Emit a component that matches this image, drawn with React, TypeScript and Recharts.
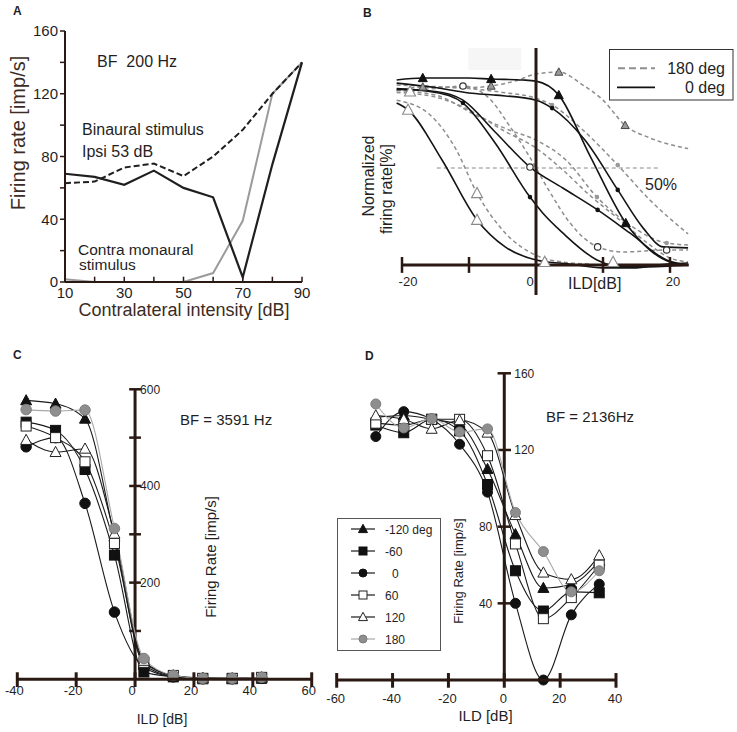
import React from "react";
import {
  ComposedChart,
  Line,
  Scatter,
  XAxis,
  YAxis,
  ReferenceLine,
  ReferenceDot,
  ReferenceArea,
} from "recharts";

const AXIS = "#2a1912";
const INK = "#1f1f1f";
const LABEL = "#3b2c25";
const GRAY_LINE = "#9b9b9b";
const FONT = '"Liberation Sans", Arial, Helvetica, sans-serif';

// ---------- A: firing rate vs contralateral intensity
const intensityA = [10, 20, 30, 40, 50, 60, 70, 80, 90];
const binauralSolid = [69, 67, 62, 71, 60, 54, 3, 75, 140];
const binauralDashed = [63, 64, 73, 75.5, 67.5, 80, 97, 120, 140];
const contraMonaural = [1.7, 0, 0, 0, 0, 5.7, 39, 120, 140];
const rateTicksA = [0, 20, 40, 60, 80, 100, 120, 140, 160];
const intensityLabelsA = [10, 30, 50, 70, 90];
const intensityMarksA = [20, 30, 40, 50, 60, 70, 80, 90];

// ---------- B: normalized ILD curves, [ILD dB, % rate]
type Pt = [number, number];
const b0Triangles: Pt[] = [[-20.8, 95.4], [-16.9, 96.4], [-10, 96.4], [-6.7, 95.9], [-2, 95.4], [0, 94.8], [3.4, 87.6], [8, 56.7], [13.4, 21.6], [17, 7.7], [20, 1.5], [22.7, 0]];
const b0Dots: Pt[] = [[-20.8, 93.8], [-15, 91.5], [-10, 88.7], [-6, 87.6], [0, 85], [2.4, 80.9], [7.3, 64.4], [12.2, 38.7], [16, 19], [19, 9.3], [22.7, 8.8]];
const b0Steep: Pt[] = [[-20.8, 91], [-15, 89], [-10.9, 83.5], [-6.1, 62.9], [-0.9, 35], [1, 26.8], [4, 16.5], [9.1, 2.6], [12, -0.5], [16, -1], [22.7, 0]];
const b0Circles: Pt[] = [[-20.8, 90.5], [-15, 89.5], [-10.9, 85], [-6.1, 68.6], [-0.9, 50.5], [4, 39.7], [9.2, 28.4], [14, 16.5], [19.5, 2.6], [22.7, 0]];
const b0OpenTri: Pt[] = [[-20.8, 83.5], [-19.1, 80], [-14, 54], [-8.8, 23.2], [-4.6, 9.3], [0, 2.6], [5, 0.5], [10, -1.5], [15, -1.5], [18, 0], [22.7, 1]];
const b180Triangles: Pt[] = [[-20.8, 90], [-16.9, 91.8], [-10, 91.5], [-6.7, 92.3], [-3, 95], [0, 98.5], [3.4, 99.5], [7, 92.8], [10, 85], [13.3, 72], [17, 65.5], [22.7, 60]];
const b180Squares: Pt[] = [[-20.8, 92.8], [-15, 92], [-10, 91], [-5, 89], [0, 86], [2.4, 82.5], [7, 69.6], [12.2, 51.5], [17, 33.5], [22.7, 16]];
const b180Dots: Pt[] = [[-20.8, 90], [-15, 87.6], [-9, 77.3], [-4, 69.6], [0, 64.4], [4.5, 54], [9.1, 35], [14, 20.6], [19.5, 11.3], [22.7, 10.3]];
const b180OpenTri: Pt[] = [[-20.8, 85], [-16, 78], [-12, 60], [-8.8, 37], [-4.6, 16.5], [0, 5], [4, 1.5], [8, 0.5]];
const b180Plain: Pt[] = [[-20.8, 89], [-15, 86.6], [-10, 80], [-5, 69.6], [0, 60.3], [4, 49], [8, 36], [12.5, 23.2], [17, 10.3], [20, 3.6], [22.7, 1.5]];
const b180Circles: Pt[] = [[-20.8, 90], [-15, 91], [-10.9, 92.3], [-7, 86], [-4, 72], [-1, 56], [2, 38], [5, 22], [9.2, 9.3], [13, 6.7], [19.5, 7.7], [22.7, 7.7]];

const bMarkBlackTri: Pt[] = [[-16.9, 96.4], [-6.7, 95.9], [3.4, 87.6], [13.4, 21.6]];
const bMarkGrayTri: Pt[] = [[-16.9, 91.8], [-6.7, 92.3], [3.4, 99.5], [13.3, 72]];
const bMarkOpenTri: Pt[] = [[-19.1, 80], [-18.8, 89.4], [-8.8, 37], [-8.8, 23.2], [1.3, 1.5], [11.5, 1.5]];
const bMarkOpenCircle: Pt[] = [[-10.9, 92.3], [-0.9, 50.5], [9.2, 9.3], [19.5, 7.7]];
const bMarkBlackDot: Pt[] = [[-10.9, 83.5], [-0.9, 35], [2.4, 80.9], [12.2, 38.7], [9.2, 28.4]];
const bMarkGrayDot: Pt[] = [[2.4, 82.5], [12.2, 51.5], [9.1, 35], [19.5, 11.3]];
const ildTicksB = [-20, -10, 10, 20];

// ---------- C and D: firing rate vs ILD for six phase differences
const phaseNames = ["-120 deg", "-60", "0", "60", "120", "180"];

const ildC = [-37, -27, -17, -7, 3, 13, 23, 33, 43];
const cMinus120 = [577, 570, 539, 295, 30, 6, 2, 1, 3];
const cMinus60 = [532, 515, 434, 257, 15, 5, 1, 1, 2];
const c0 = [481, 500, 364, 139, 25, 5, 1, 1, 2];
const c60 = [524, 500, 450, 281, 35, 8, 2, 2, 4];
const c120 = [495, 470, 477, 301, 38, 8, 3, 2, 4];
const c180 = [558, 555, 557, 312, 43, 8, 2, 2, 4];
const ildTicksC = [-40, -20, 0, 20, 40, 60];
const rateMarksC = [100, 200, 300, 400, 500, 600];
const rateLabelsC = [200, 400, 600];

const ildD = [-46, -36, -26, -16, -6, 4, 14, 24, 34];
const dMinus120 = [137, 138, 136, 133, 110, 76, 48, 50, 62];
const dMinus60 = [133, 129, 136, 130, 102, 57, 36, 46, 45.5];
const d0 = [127, 140, 136, 123, 98, 40, 0, 34, 50];
const d60 = [134, 133, 136, 136, 117, 71, 32, 43, 60];
const d120 = [138, 136, 131, 135.5, 129, 86, 56, 52.5, 65];
const d180 = [144, 131.5, 136.4, 129.4, 131, 87.4, 67, 46, 57];
const ildTicksD = [-60, -40, -20, 0, 20, 40];
const rateMarksD = [40, 80, 120, 160];

const phaseStyles = [
  { shape: "tri", fill: "#111", stroke: "#111", line: "#1a1a1a" },
  { shape: "sq", fill: "#111", stroke: "#111", line: "#1a1a1a" },
  { shape: "dot", fill: "#111", stroke: "#111", line: "#1a1a1a" },
  { shape: "sq", fill: "#fff", stroke: "#222", line: "#1a1a1a" },
  { shape: "tri", fill: "#fff", stroke: "#222", line: "#1a1a1a" },
  { shape: "dot", fill: "#8e8e8e", stroke: "#7d7d7d", line: "#a8a8a8" },
];

const toXY = (pts: Pt[]) => pts.map(([x, y]) => ({ x, y }));
const zipXY = (xs: number[], ys: number[]) => xs.map((x, i) => ({ x, y: ys[i] }));

function Mark({ cx, cy, shape, size, fill, stroke, sw = 1 }: any) {
  if (cx == null || cy == null) return null;
  const h = size / 2;
  if (shape === "tri") {
    return (
      <polygon
        points={`${cx},${cy - h * 1.05} ${cx - h},${cy + h * 0.8} ${cx + h},${cy + h * 0.8}`}
        fill={fill}
        stroke={stroke}
        strokeWidth={sw}
      />
    );
  }
  if (shape === "sq") {
    return <rect x={cx - h} y={cy - h} width={size} height={size} fill={fill} stroke={stroke} strokeWidth={sw} />;
  }
  return <circle cx={cx} cy={cy} r={h} fill={fill} stroke={stroke} strokeWidth={sw} />;
}

const dotLabel = (text: string, dx: number, dy: number, anchor: string, size: number) => (p: any) => (
  <text x={p.viewBox.x + dx} y={p.viewBox.y + dy} textAnchor={anchor} fontSize={size} fill={INK}>
    {text}
  </text>
);

function Txt({ x, y, size, children, bold, color = INK, center }: any) {
  return (
    <div
      style={{
        position: "absolute",
        left: x,
        top: y,
        fontSize: size,
        lineHeight: 1,
        fontWeight: bold ? 700 : 400,
        color,
        whiteSpace: "nowrap",
        transform: center ? "translateX(-50%)" : undefined,
      }}
    >
      {children}
    </div>
  );
}

function VText({ cx, cy, size, children, color = INK }: any) {
  return (
    <div
      style={{
        position: "absolute",
        left: cx,
        top: cy,
        fontSize: size,
        lineHeight: 1,
        color,
        whiteSpace: "nowrap",
        transform: "translate(-50%, -50%) rotate(-90deg)",
      }}
    >
      {children}
    </div>
  );
}

function PanelA() {
  const rows = intensityA.map((x, i) => ({
    x,
    solid: binauralSolid[i],
    dashed: binauralDashed[i],
    mono: contraMonaural[i],
  }));
  return (
    <ComposedChart width={330} height={320} data={rows} margin={{ top: 31, right: 28, bottom: 8, left: 20 }}>
      <XAxis
        dataKey="x"
        type="number"
        domain={[10, 90]}
        ticks={intensityLabelsA}
        interval={0}
        tickLine={false}
        tickSize={0}
        tickMargin={5}
        height={30}
        axisLine={{ stroke: AXIS, strokeWidth: 2 }}
        tick={{ fontSize: 15, fill: INK }}
      />
      <YAxis
        type="number"
        domain={[0, 160]}
        ticks={rateTicksA}
        interval={0}
        width={45}
        tickSize={5}
        tickMargin={2}
        tickFormatter={(v: number) => (v % 40 === 0 ? String(v) : "")}
        tickLine={{ stroke: AXIS, strokeWidth: 1.5 }}
        axisLine={{ stroke: AXIS, strokeWidth: 2 }}
        tick={{ fontSize: 15, fill: INK }}
      />
      <Line dataKey="mono" type="linear" stroke={GRAY_LINE} strokeWidth={2} dot={false} activeDot={false} isAnimationActive={false} />
      <Line dataKey="dashed" type="linear" stroke={INK} strokeWidth={2} strokeDasharray="6 3" dot={false} activeDot={false} isAnimationActive={false} />
      <Line dataKey="solid" type="linear" stroke={INK} strokeWidth={2.2} dot={false} activeDot={false} isAnimationActive={false} />
    </ComposedChart>
  );
}

// inward x tick marks of panel A, on a transparent chart sharing A's plot box and scales
function PanelAMarks() {
  return (
    <ComposedChart width={330} height={320} margin={{ top: 31, right: 28, bottom: 38, left: 65 }}>
      <XAxis dataKey="x" type="number" domain={[10, 90]} hide />
      <YAxis type="number" domain={[0, 160]} hide />
      <Line data={zipXY(intensityA, binauralSolid)} dataKey="y" stroke="none" dot={false} activeDot={false} isAnimationActive={false} />
      {intensityMarksA.map((v) => (
        <ReferenceLine key={v} segment={[{ x: v, y: 0 }, { x: v, y: 3.4 }]} stroke={AXIS} strokeWidth={1.5} />
      ))}
    </ComposedChart>
  );
}

const bSolid = [b0Triangles, b0Dots, b0Steep, b0Circles, b0OpenTri];
const bDashed = [b180Triangles, b180Squares, b180Dots, b180OpenTri, b180Plain, b180Circles];
const bMarks = [
  { pts: bMarkGrayDot, shape: "dot", size: 4.6, fill: "#999", stroke: "#999", sw: 0 },
  { pts: bMarkBlackDot, shape: "dot", size: 4.6, fill: "#111", stroke: "#111", sw: 0 },
  { pts: bMarkOpenCircle, shape: "dot", size: 6.4, fill: "#fff", stroke: "#333", sw: 1.2 },
  { pts: bMarkGrayTri, shape: "tri", size: 8, fill: "#9a9a9a", stroke: "#444", sw: 1 },
  { pts: bMarkBlackTri, shape: "tri", size: 9, fill: "#111", stroke: "#111", sw: 1 },
  { pts: bMarkOpenTri, shape: "tri", size: 11, fill: "#fff", stroke: "#8a8a8a", sw: 1.1 },
];

function PanelB() {
  return (
    <ComposedChart width={397} height={320} margin={{ top: 48, right: 46.9, bottom: 25, left: 55.3 }}>
      <XAxis dataKey="x" type="number" domain={[-21, 23]} hide />
      <YAxis type="number" domain={[-15.5, 111.9]} hide />
      <ReferenceArea x1={-10.1} x2={-2.2} y1={100.5} y2={111.9} fill="#f6f6f6" fillOpacity={1} stroke="none" />
      <ReferenceLine segment={[{ x: -14.8, y: 50 }, { x: 18.5, y: 50 }]} stroke="#8a8a8a" strokeWidth={1} strokeDasharray="4 3" />
      {bDashed.map((c, i) => (
        <Line key={`bd${i}`} data={toXY(c)} dataKey="y" type="monotone" stroke="#8e8e8e" strokeWidth={1.5} strokeDasharray="4 3" dot={false} activeDot={false} isAnimationActive={false} />
      ))}
      {bSolid.map((c, i) => (
        <Line key={`bs${i}`} data={toXY(c)} dataKey="y" type="monotone" stroke="#141414" strokeWidth={1.6} dot={false} activeDot={false} isAnimationActive={false} />
      ))}
      <ReferenceLine segment={[{ x: -20, y: 0 }, { x: 22.8, y: 0 }]} stroke={AXIS} strokeWidth={3} />
      <ReferenceLine x={0} stroke={AXIS} strokeWidth={3} />
      {ildTicksB.map((v) => (
        <ReferenceLine key={v} segment={[{ x: v, y: -4.1 }, { x: v, y: 4.1 }]} stroke={AXIS} strokeWidth={2.5} />
      ))}
      <ReferenceDot x={-20} y={0} r={0} fill="none" stroke="none" label={dotLabel("-20", 6, 21, "middle", 13)} />
      <ReferenceDot x={0} y={0} r={0} fill="none" stroke="none" label={dotLabel("0", -6, 21, "middle", 13)} />
      <ReferenceDot x={20} y={0} r={0} fill="none" stroke="none" label={dotLabel("20", 3, 21, "middle", 13)} />
      {bMarks.map((m, i) => (
        <Scatter
          key={`bm${i}`}
          data={toXY(m.pts)}
          dataKey="y"
          isAnimationActive={false}
          shape={(p: any) => <Mark cx={p.cx} cy={p.cy} shape={m.shape} size={m.size} fill={m.fill} stroke={m.stroke} sw={m.sw} />}
        />
      ))}
    </ComposedChart>
  );
}

function PhaseLines({ xs, series, sizes, tag }: any) {
  return series.map((ys: number[], i: number) => {
    const st = phaseStyles[i];
    const size = st.shape === "tri" ? sizes.tri : st.shape === "sq" ? sizes.sq : sizes.dot;
    return (
      <Line
        key={`${tag}p${i}`}
        name={phaseNames[i]}
        data={zipXY(xs, ys)}
        dataKey="y"
        type="monotone"
        stroke={st.line}
        strokeWidth={1.1}
        activeDot={false}
        isAnimationActive={false}
        dot={(p: any) => (
          <Mark key={`${tag}${i}-${p.index}`} cx={p.cx} cy={p.cy} shape={st.shape} size={size} fill={st.fill} stroke={st.stroke} sw={1} />
        )}
      />
    );
  });
}

// vertical rate axis at ILD 0 with its marks, plus the ILD labels under rate 0
function RateAxis({ xTicks, yMarks, yMax, halfX, xLabelDx, xLabelDy, tag }: any) {
  return [
    <ReferenceLine key={`${tag}v`} segment={[{ x: 0, y: 0 }, { x: 0, y: yMax }]} stroke={AXIS} strokeWidth={3} />,
    ...yMarks.map((v: number) => (
      <ReferenceLine key={`${tag}yt${v}`} segment={[{ x: -halfX, y: v }, { x: halfX, y: v }]} stroke={AXIS} strokeWidth={2.5} />
    )),
    ...xTicks.map((v: number) => (
      <ReferenceDot key={`${tag}xl${v}`} x={v} y={0} r={0} fill="none" stroke="none" label={dotLabel(String(v), xLabelDx, xLabelDy, "middle", 13)} />
    )),
  ];
}

// horizontal ILD axis at rate 0 with crossing tick marks, on a transparent chart with the same box and scales
function IldAxisChart({ width, height, margin, xDomain, yDomain, xTicks, halfY, xs, ys }: any) {
  return (
    <ComposedChart width={width} height={height} margin={margin}>
      <XAxis dataKey="x" type="number" domain={xDomain} hide />
      <YAxis type="number" domain={yDomain} hide />
      <Line data={zipXY(xs, ys)} dataKey="y" stroke="none" dot={false} activeDot={false} isAnimationActive={false} />
      <ReferenceLine y={0} stroke={AXIS} strokeWidth={3} />
      {xTicks.map((v: number) => (
        <ReferenceLine key={`xt${v}`} segment={[{ x: v, y: -halfY * 1.1 }, { x: v, y: halfY }]} stroke={AXIS} strokeWidth={3} />
      ))}
    </ComposedChart>
  );
}

const marginC = { top: 49.3, right: 18.3, bottom: 35.8, left: 17.3 };
const marginD = { top: 33.3, right: 121, bottom: 32.8, left: 16.7 };

function PanelC() {
  return (
    <ComposedChart width={330} height={392} margin={marginC}>
      <XAxis dataKey="x" type="number" domain={[-40, 60]} hide />
      <YAxis type="number" domain={[-35, 600]} hide />
      {RateAxis({ xTicks: ildTicksC, yMarks: rateMarksC, yMax: 600, halfX: 2, xLabelDx: -3, xLabelDy: 15.7, tag: "c" })}
      {rateLabelsC.map((v) => (
        <ReferenceDot key={`l${v}`} x={0} y={v} r={0} fill="none" stroke="none" label={dotLabel(String(v), 5, 4.5, "start", 12)} />
      ))}
      {PhaseLines({ xs: ildC, series: [cMinus120, cMinus60, c0, c60, c120, c180], sizes: { tri: 11, sq: 10, dot: 10.5 }, tag: "c" })}
    </ComposedChart>
  );
}

function PanelD() {
  return (
    <ComposedChart width={417} height={392} margin={marginD}>
      <XAxis dataKey="x" type="number" domain={[-60, 40]} hide />
      <YAxis type="number" domain={[-10, 160]} hide />
      {RateAxis({ xTicks: ildTicksD, yMarks: rateMarksD, yMax: 160, halfX: 2.4, xLabelDx: -1, xLabelDy: 23, tag: "d" })}
      {rateMarksD.map((v) =>
        v >= 120 ? (
          <ReferenceDot key={`l${v}`} x={0} y={v} r={0} fill="none" stroke="none" label={dotLabel(String(v), 10, 4.5, "start", 12)} />
        ) : (
          <ReferenceDot key={`l${v}`} x={0} y={v} r={0} fill="none" stroke="none" label={dotLabel(String(v), -12, 4.5, "end", 12)} />
        )
      )}
      {PhaseLines({ xs: ildD, series: [dMinus120, dMinus60, d0, d60, d120, d180], sizes: { tri: 11, sq: 10, dot: 10 }, tag: "d" })}
    </ComposedChart>
  );
}

function PhaseLegend() {
  return (
    <svg style={{ position: "absolute", left: 337, top: 518 }} width={104} height={133}>
      <rect x={0.5} y={0.5} width={103} height={132} fill="#fff" stroke="#555" strokeWidth={1} />
      {phaseNames.map((name, i) => {
        const st = phaseStyles[i];
        const y = 11 + i * 22;
        const size = st.shape === "tri" ? 9 : 8;
        return (
          <g key={name}>
            <line x1={14} x2={38} y1={y} y2={y} stroke={st.line} strokeWidth={1.2} />
            <Mark cx={26} cy={y} shape={st.shape} size={size} fill={st.fill} stroke={st.stroke} sw={1} />
            <text x={name === "0" ? 55 : 48} y={y + 4.5} fontSize={12} fill={INK}>
              {name}
            </text>
          </g>
        );
      })}
    </svg>
  );
}

function PhaseKeyB() {
  return (
    <svg style={{ position: "absolute", left: 609, top: 49 }} width={125} height={52}>
      <rect x={0.5} y={0.5} width={123.5} height={50.5} fill="#fff" stroke="#333" strokeWidth={1} />
      <line x1={9} x2={46} y1={19.3} y2={19.3} stroke="#8e8e8e" strokeWidth={2} strokeDasharray="7 4" />
      <text x={116} y={25} textAnchor="end" fontSize={16} fill={INK}>180 deg</text>
      <line x1={8} x2={46} y1={38.3} y2={38.3} stroke="#111" strokeWidth={1.8} />
      <text x={116} y={44} textAnchor="end" fontSize={16} fill={INK}>0 deg</text>
    </svg>
  );
}

const layer = (left: number, top: number) => ({ position: "absolute" as const, left, top });

export default function App() {
  return (
    <div
      style={{
        position: "absolute",
        left: 0,
        top: 0,
        width: 737,
        height: 732,
        background: "#fff",
        fontFamily: FONT,
        color: INK,
        overflow: "hidden",
      }}
    >
      <div style={layer(0, 0)}>
        <PanelA />
      </div>
      <div style={layer(0, 0)}>
        <PanelAMarks />
      </div>
      <div style={layer(340, 0)}>
        <PanelB />
      </div>
      <div style={layer(0, 340)}>
        <PanelC />
      </div>
      <div style={layer(0, 340)}>
        <IldAxisChart width={330} height={392} margin={marginC} xDomain={[-40, 60]} yDomain={[-35, 600]} xTicks={ildTicksC} halfY={14.5} xs={ildC} ys={c0} />
      </div>
      <div style={layer(320, 340)}>
        <PanelD />
      </div>
      <div style={layer(320, 340)}>
        <IldAxisChart width={417} height={392} margin={marginD} xDomain={[-60, 40]} yDomain={[-10, 160]} xTicks={ildTicksD} halfY={3.65} xs={ildD} ys={d0} />
      </div>
      <PhaseKeyB />
      <PhaseLegend />

      <Txt x={13} y={4.8} size={12} bold>A</Txt>
      <Txt x={97} y={53.5} size={16}>BF{"\u00a0\u00a0"}200 Hz</Txt>
      <Txt x={82} y={121.5} size={16}>Binaural stimulus</Txt>
      <Txt x={82} y={143.5} size={16}>Ipsi 53 dB</Txt>
      <Txt x={78} y={241.9} size={15.5}>Contra monaural</Txt>
      <Txt x={79} y={257.4} size={15.5}>stimulus</Txt>
      <VText cx={18} cy={133} size={20} color={LABEL}>Firing rate [imp/s]</VText>
      <Txt x={184} y={301} size={18} color={LABEL} center>Contralateral intensity [dB]</Txt>

      <Txt x={363} y={7} size={12} bold>B</Txt>
      <VText cx={369} cy={176} size={16}>Normalized</VText>
      <VText cx={387} cy={189} size={16}>firing rate[%]</VText>
      <Txt x={645} y={176.5} size={16}>50%</Txt>
      <Txt x={568} y={275.5} size={16}>ILD[dB]</Txt>

      <Txt x={13} y={349} size={12} bold>C</Txt>
      <Txt x={180} y={412.3} size={15}>BF = 3591 Hz</Txt>
      <VText cx={209.5} cy={556.5} size={15}>Firing Rate [imp/s]</VText>
      <Txt x={162} y={712} size={14} center>ILD [dB]</Txt>

      <Txt x={365} y={350} size={12} bold>D</Txt>
      <Txt x={546} y={409} size={15}>BF = 2136Hz</Txt>
      <VText cx={458} cy={571} size={13}>Firing Rate [imp/s]</VText>
      <Txt x={485.5} y={708.3} size={15} center>ILD [dB]</Txt>
    </div>
  );
}
